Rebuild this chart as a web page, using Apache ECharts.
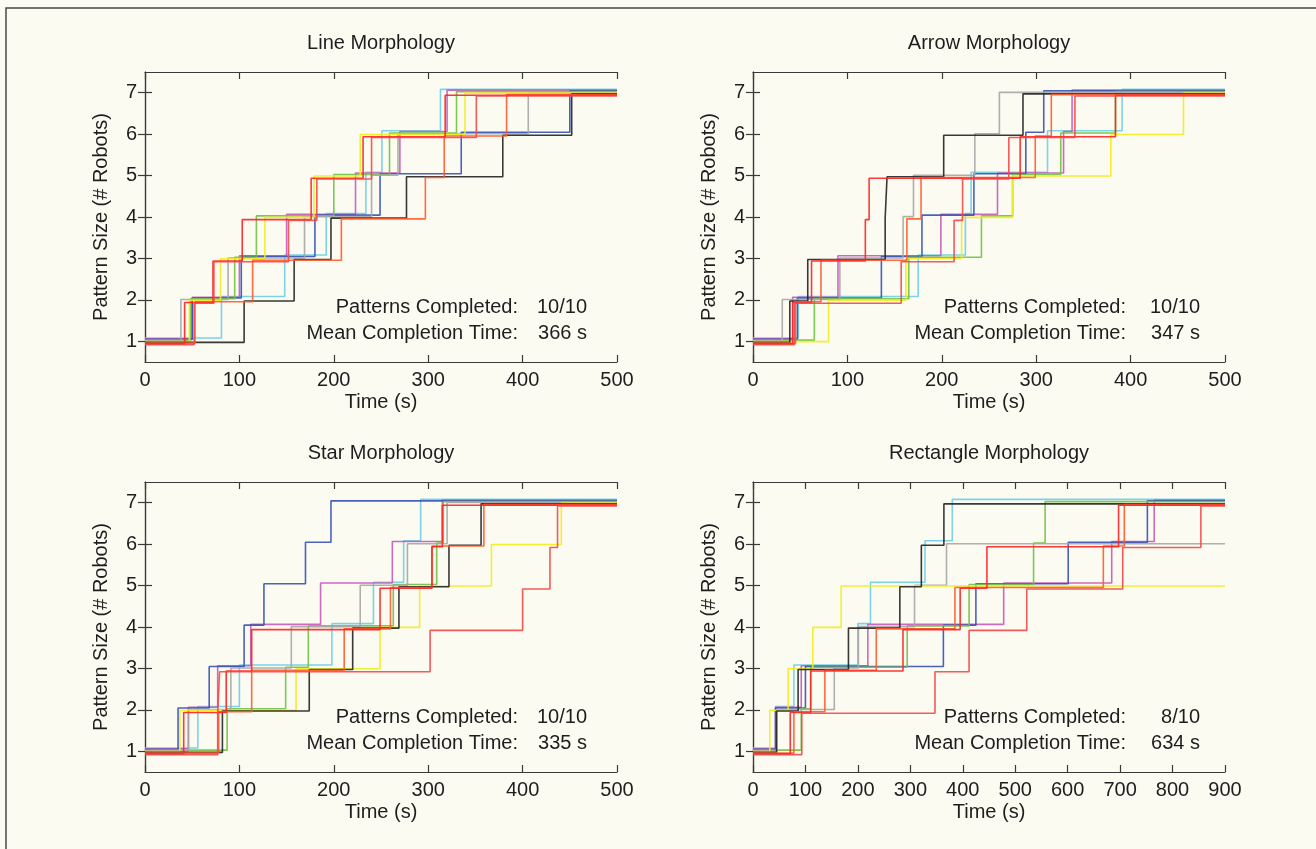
<!DOCTYPE html>
<html>
<head>
<meta charset="utf-8">
<title>Pattern completion</title>
<script src="https://cdn.jsdelivr.net/npm/echarts@6.0.0/dist/echarts.min.js"></script>
<style>
  html, body { margin: 0; padding: 0; background: #fbfbf2; }
  #chart { width: 1316px; height: 849px; }
</style>
</head>
<body>
<div id="chart"></div>
<script>
// one colour per trial run, same order in every panel
var runColors = ['#6fcde6', '#c65bb8', '#3552b5', '#72c044', '#a6a6a6',
                 '#f2ec1c', '#222222', '#ff5a2e', '#ff2222', '#f24848'];
// small vertical shift per run so overlapping steps stay visible
var runOffsets = [0.081, 0.063, 0.045, 0.027, 0.009, -0.009, -0.027, -0.045, -0.063, -0.081];

// time (s) at which each run grew to 2, 3, 4, 5, 6, 7 robots
var lineTimes = [
  [81, 148, 192, 234, 251, 313],
  [50, 100, 150, 223, 270, 320],
  [50, 102, 180, 249, 335, 450],
  [48, 95, 118, 200, 259, 330],
  [38, 88, 169, 240, 268, 406],
  [47, 80, 127, 179, 228, 339],
  [105, 158, 197, 277, 379, 452],
  [53, 114, 208, 297, 317, 383],
  [42, 72, 103, 176, 231, 318],
  [52, 73, 152, 182, 240, 351]
];
var arrowTimes = [
  [48, 175, 225, 231, 312, 391],
  [42, 90, 199, 259, 329, 338],
  [47, 136, 179, 234, 289, 308],
  [65, 165, 242, 275, 326, 384],
  [31, 92, 159, 170, 235, 261],
  [80, 162, 221, 275, 379, 456],
  [39, 58, 140, 142, 202, 286],
  [45, 72, 163, 178, 299, 316],
  [42, 62, 119, 123, 283, 384],
  [44, 157, 213, 222, 271, 341]
];
var starTimes = [
  [56, 100, 198, 242, 274, 292],
  [46, 77, 112, 186, 262, 315],
  [35, 68, 105, 126, 170, 197],
  [87, 149, 173, 263, 309, 316],
  [46, 91, 155, 228, 278, 320],
  [37, 160, 249, 291, 367, 441],
  [82, 174, 220, 269, 322, 356],
  [78, 113, 211, 260, 304, 359],
  [41, 86, 113, 249, 304, 315],
  [77, 79, 302, 400, 429, 437]
];
var rectTimes = [
  [43, 78, 200, 224, 328, 380],
  [43, 92, 219, 478, 684, 765],
  [43, 100, 363, 425, 601, 752],
  [92, 110, 294, 412, 535, 557],
  [45, 155, 201, 308, 369],
  [32, 67, 114, 168],
  [45, 86, 182, 280, 321, 364],
  [78, 137, 235, 385, 668, 708],
  [71, 110, 286, 395, 446, 697],
  [93, 347, 412, 522, 705, 854]
];

var panelTimes = [lineTimes, arrowTimes, starTimes, rectTimes];
var panelTitles = ['Line Morphology', 'Arrow Morphology', 'Star Morphology', 'Rectangle Morphology'];
var panelEnds = [500, 500, 500, 900];
var completedText = ['10/10', '10/10', '10/10', '8/10'];
var meanText = ['366 s', '347 s', '335 s', '634 s'];
var yTicks = [1, 2, 3, 4, 5, 6, 7];

var gridPos = [
  { left: 145, top: 72 },
  { left: 753, top: 72 },
  { left: 145, top: 482 },
  { left: 753, top: 482 }
];
var gridW = 472, gridH = 290;

var font = '"Liberation Sans", Arial, Helvetica, sans-serif';
var textColor = '#1e1e1e';
var axisColor = '#3a3a3a';

var grids = [], xAxes = [], yAxes = [], series = [], graphics = [];

// frame round the whole figure
graphics.push({
  type: 'rect', silent: true,
  shape: { x: 6, y: 8, width: 1400, height: 1000 },
  style: { fill: 'none', stroke: '#4a4a4a', lineWidth: 1.5 }
});

panelTimes.forEach(function (runs, p) {
  var g = gridPos[p];
  grids.push({ left: g.left, top: g.top, width: gridW, height: gridH, containLabel: false });

  var tickStyle = { inside: true, length: 7, lineStyle: { color: axisColor, width: 1.2 } };
  var lineStyle = { show: true, lineStyle: { color: axisColor, width: 1.2 } };

  xAxes.push({
    gridIndex: p, type: 'value', position: 'bottom',
    min: 0, max: panelEnds[p], interval: 100,
    name: 'Time (s)', nameLocation: 'middle', nameGap: 30,
    nameTextStyle: { fontFamily: font, fontSize: 20, color: textColor },
    axisLine: lineStyle, axisTick: tickStyle,
    axisLabel: { fontFamily: font, fontSize: 20, color: textColor, margin: 8 },
    splitLine: { show: false }
  });
  xAxes.push({
    gridIndex: p, type: 'value', position: 'top',
    min: 0, max: panelEnds[p], interval: 100,
    axisLine: lineStyle, axisTick: tickStyle,
    axisLabel: { show: false }, splitLine: { show: false }
  });
  yAxes.push({
    gridIndex: p, type: 'value', position: 'left',
    min: 0.5, max: 7.5,
    name: 'Pattern Size (# Robots)', nameLocation: 'middle', nameGap: 34,
    nameTextStyle: { fontFamily: font, fontSize: 20, color: textColor },
    axisLine: lineStyle,
    axisTick: Object.assign({ customValues: yTicks }, tickStyle),
    axisLabel: { customValues: yTicks, fontFamily: font, fontSize: 20, color: textColor, margin: 8 },
    splitLine: { show: false }
  });
  yAxes.push({
    gridIndex: p, type: 'value', position: 'right',
    min: 0.5, max: 7.5,
    axisLine: lineStyle,
    axisTick: Object.assign({ customValues: yTicks }, tickStyle),
    axisLabel: { show: false }, splitLine: { show: false }
  });

  runs.forEach(function (times, r) {
    var off = runOffsets[r];
    var pts = [[0, 1 + off]];
    times.forEach(function (t, i) { pts.push([t, 2 + i + off]); });
    pts.push([panelEnds[p], 1 + times.length + off]);
    series.push({
      type: 'line', xAxisIndex: p * 2, yAxisIndex: p * 2,
      step: 'end', symbol: 'none', silent: true,
      data: pts,
      lineStyle: { color: runColors[r], width: 1.6, opacity: 0.9 }
    });
  });

  // panel title and the two result lines
  var cx = g.left + gridW / 2;
  graphics.push({
    type: 'text', silent: true, x: cx, y: g.top - 29,
    style: { text: panelTitles[p], fill: textColor, font: '20px ' + font, align: 'center', verticalAlign: 'middle' }
  });
  var right = g.left + gridW;
  var labX = right - 99, valX = right - (p % 2 === 0 ? 30 : 25);
  var rowY = [g.top + 235, g.top + 261];
  graphics.push(
    { type: 'text', silent: true, x: labX, y: rowY[0],
      style: { text: 'Patterns Completed:', fill: textColor, font: '20px ' + font, align: 'right', verticalAlign: 'middle' } },
    { type: 'text', silent: true, x: valX, y: rowY[0],
      style: { text: completedText[p], fill: textColor, font: '20px ' + font, align: 'right', verticalAlign: 'middle' } },
    { type: 'text', silent: true, x: labX, y: rowY[1],
      style: { text: 'Mean Completion Time:', fill: textColor, font: '20px ' + font, align: 'right', verticalAlign: 'middle' } },
    { type: 'text', silent: true, x: valX, y: rowY[1],
      style: { text: meanText[p], fill: textColor, font: '20px ' + font, align: 'right', verticalAlign: 'middle' } }
  );
});

var myChart = echarts.init(document.getElementById('chart'));
myChart.setOption({
  backgroundColor: '#fbfbf2',
  animation: false,
  grid: grids,
  xAxis: xAxes,
  yAxis: yAxes,
  series: series,
  graphic: graphics
});
</script>
</body>
</html>
